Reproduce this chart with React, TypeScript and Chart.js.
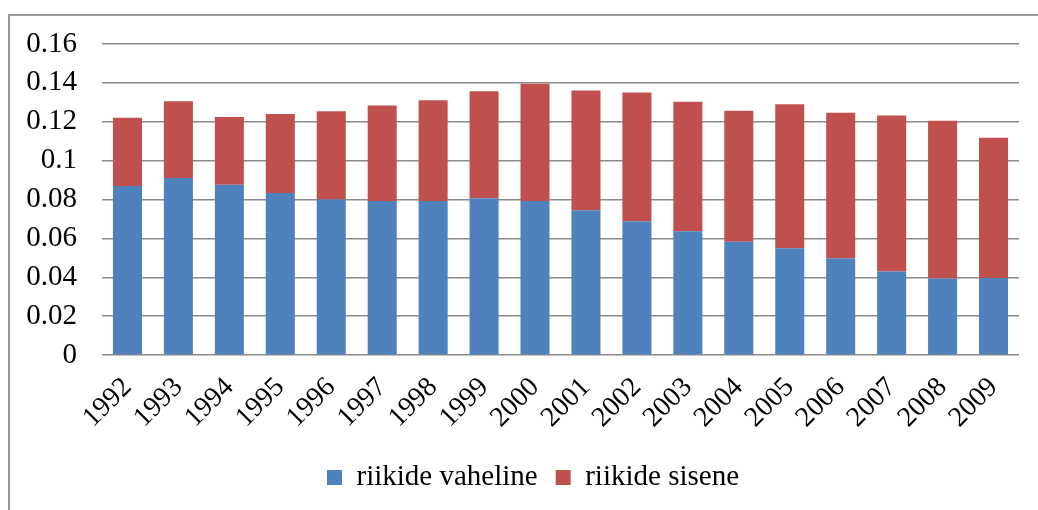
import React, { useEffect, useRef } from "react";
import { Chart, registerables } from "chart.js";

Chart.register(...registerables);

const years = ["1992","1993","1994","1995","1996","1997","1998","1999","2000","2001","2002","2003","2004","2005","2006","2007","2008","2009"];
const between = [0.0869,0.0910,0.0876,0.0833,0.0800,0.0792,0.0792,0.0807,0.0792,0.0745,0.0688,0.0637,0.0582,0.0549,0.0498,0.0430,0.0394,0.0396];
const within = [0.0351,0.0396,0.0349,0.0407,0.0454,0.0492,0.0518,0.0550,0.0604,0.0616,0.0663,0.0666,0.0674,0.0741,0.0748,0.0802,0.0811,0.0722];
const yTicks = [0, 0.02, 0.04, 0.06, 0.08, 0.1, 0.12, 0.14, 0.16];

const FONT = '"Liberation Serif", "Times New Roman", serif';
const FS = 29;

// shifts the centred legend so it sits centred under the whole chart box as in the original
const legendShift = {
  id: "legendShift",
  afterLayout(chart: any) {
    const lg = chart.legend;
    if (lg) { lg.left += 37; }
  },
};

export default function App() {
  const ref = useRef<HTMLCanvasElement | null>(null);
  useEffect(() => {
    document.body.style.overflow = "hidden";
    const ctx = ref.current!;
    const chart = new Chart(ctx, {
      type: "bar",
      data: {
        labels: years,
        datasets: [
          { label: "riikide vaheline", data: between, backgroundColor: "#4F81BD", borderWidth: 0, categoryPercentage: 1, barPercentage: 0.57 },
          { label: "riikide sisene", data: within, backgroundColor: "#C0504D", borderWidth: 0, categoryPercentage: 1, barPercentage: 0.57 },
        ],
      },
      plugins: [legendShift],
      options: {
        animation: false,
        responsive: false,
        layout: { padding: { top: 28, right: 19, bottom: 8, left: 0 } },
        plugins: {
          tooltip: { enabled: false },
          legend: {
            position: "bottom",
            labels: {
              font: { family: FONT, size: FS },
              color: "#000",
              boxWidth: 15,
              boxHeight: 15,
              padding: 18,
            },
          },
        },
        scales: {
          x: {
            stacked: true,
            grid: { display: false },
            border: { display: false },
            ticks: {
              font: { family: FONT, size: 28 },
              color: "#000",
              maxRotation: 45,
              minRotation: 45,
              padding: 8,
              autoSkip: false,
            },
            afterFit: (s: any) => { s.height = 90; },
          },
          y: {
            stacked: true,
            min: 0,
            max: 0.16,
            afterBuildTicks: (s: any) => { s.ticks = yTicks.map((v) => ({ value: v })); },
            grid: { color: "#8a8a8a", lineWidth: 1.5, drawTicks: true, tickLength: 23, tickColor: "rgba(0,0,0,0)" },
            border: { display: false },
            ticks: {
              font: { family: FONT, size: FS },
              color: "#000",
              padding: 2,
              autoSkip: false,
              callback: (v: any) => String(Number(v)),
            },
            afterFit: (s: any) => { s.width = 92; },
          },
        },
      },
    } as any);
    return () => chart.destroy();
  }, []);
  return (
    <div style={{ position: "absolute", left: 8, top: 14, width: 1040, height: 510, borderTop: "2px solid #999", borderLeft: "2px solid #999", background: "#fff" }}>
      <canvas ref={ref} width={1028} height={494} style={{ position: "absolute", left: 0, top: 0, width: 1028, height: 494 }} />
    </div>
  );
}
